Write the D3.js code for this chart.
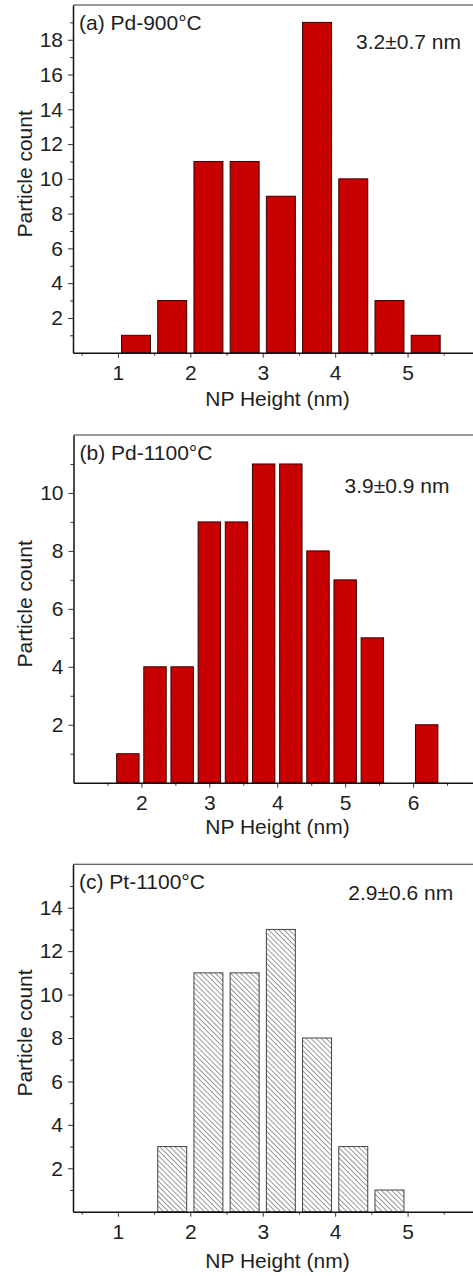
<!DOCTYPE html>
<html>
<head>
<meta charset="utf-8">
<script src="https://cdn.jsdelivr.net/npm/d3@7"></script>
<style>
  html, body { margin: 0; padding: 0; background: #fff; }
  svg { display: block; font-family: "Liberation Sans", Arial, sans-serif; }
</style>
</head>
<body>
<svg id="chart" width="473" height="1276"></svg>
<script>
// Histogram data: bin centres (nm) and particle counts for each sample
const panelTitles = ["(a) Pd-900°C", "(b) Pd-1100°C", "(c) Pt-1100°C"];
const meanLabels = ["3.2±0.7 nm", "3.9±0.9 nm", "2.9±0.6 nm"];

const heightsA = [1.25, 1.75, 2.25, 2.75, 3.25, 3.75, 4.25, 4.75, 5.25];
const countsA  = [1, 3, 11, 11, 9, 19, 10, 3, 1];

const heightsB = [1.8, 2.2, 2.6, 3.0, 3.4, 3.8, 4.2, 4.6, 5.0, 5.4, 6.2];
const countsB  = [1, 4, 4, 9, 9, 11, 11, 8, 7, 5, 2];

const heightsC = [1.75, 2.25, 2.75, 3.25, 3.75, 4.25, 4.75];
const countsC  = [3, 11, 11, 13, 8, 3, 1];

const xTicksA = [1, 2, 3, 4, 5];
const xTicksB = [2, 3, 4, 5, 6];
const xTicksC = [1, 2, 3, 4, 5];

const yTicksA = [2, 4, 6, 8, 10, 12, 14, 16, 18];
const yTicksB = [2, 4, 6, 8, 10];
const yTicksC = [2, 4, 6, 8, 10, 12, 14];

const xLabel = "NP Height (nm)";
const yLabel = "Particle count";

// Layout of the three stacked panels
const panels = [
  { heights: heightsA, counts: countsA, xTicks: xTicksA, yTicks: yTicksA,
    xDomain: [0.38, 6], xRange: [73, 480], yDomain: [0, 20], top: 5, bottom: 352.7,
    barW: 0.4, pattern: "hatchRed", stroke: "#3a0000",
    note: [283, 44.3], xLabelDy: 53.5 },
  { heights: heightsB, counts: countsB, xTicks: xTicksB, yTicks: yTicksB,
    xDomain: [1, 7], xRange: [73.5, 481], yDomain: [0, 12], top: 435, bottom: 782.7,
    barW: 0.33, pattern: "hatchRed", stroke: "#3a0000",
    note: [271, 58.3], xLabelDy: 51.5 },
  { heights: heightsC, counts: countsC, xTicks: xTicksC, yTicks: yTicksC,
    xDomain: [0.38, 6], xRange: [73, 480], yDomain: [0, 16], top: 864.3, bottom: 1211.7,
    barW: 0.4, pattern: "hatchLine", stroke: "#444",
    note: [275.3, 35.7], xLabelDy: 56.5 }
];

const fontSize = "21px";

const svg = d3.select("#chart");
const defs = svg.append("defs");

// Red fill with fine dark "/" hatching
const pr = defs.append("pattern").attr("id", "hatchRed")
  .attr("patternUnits", "userSpaceOnUse").attr("width", 2.2).attr("height", 2.2)
  .attr("patternTransform", "rotate(45)");
pr.append("rect").attr("width", 2.2).attr("height", 2.2).attr("fill", "#d60000");
pr.append("line").attr("x1", 0).attr("y1", 0).attr("x2", 0).attr("y2", 2.2)
  .attr("stroke", "#7a0000").attr("stroke-width", 0.7);

// White fill with "\" hatching
const pl = defs.append("pattern").attr("id", "hatchLine")
  .attr("patternUnits", "userSpaceOnUse").attr("width", 3.6).attr("height", 3.6)
  .attr("patternTransform", "rotate(-45)");
pl.append("rect").attr("width", 3.6).attr("height", 3.6).attr("fill", "#fff");
pl.append("line").attr("x1", 0).attr("y1", 0).attr("x2", 0).attr("y2", 3.6)
  .attr("stroke", "#222").attr("stroke-width", 0.9);

const textColor = "#1e1e1e";

panels.forEach((p, i) => {
  const x = d3.scaleLinear().domain(p.xDomain).range(p.xRange);
  const y = d3.scaleLinear().domain(p.yDomain).range([p.bottom, p.top]);
  const g = svg.append("g");

  // top frame line
  g.append("line")
    .attr("x1", p.xRange[0]).attr("x2", p.xRange[1])
    .attr("y1", p.top).attr("y2", p.top)
    .attr("stroke", "#333").attr("stroke-width", 1.1);

  // bars
  g.selectAll("rect.bar").data(p.heights.map((h, k) => ({ h, c: p.counts[k] })))
    .join("rect").attr("class", "bar")
    .attr("x", d => x(d.h - p.barW / 2))
    .attr("width", d => x(d.h + p.barW / 2) - x(d.h - p.barW / 2))
    .attr("y", d => y(d.c))
    .attr("height", d => y(0) - y(d.c))
    .attr("fill", `url(#${p.pattern})`)
    .attr("stroke", p.stroke).attr("stroke-width", 1);

  // minor ticks
  const xMinor = d3.range(Math.ceil(p.xDomain[0] * 2) / 2, p.xDomain[1], 0.5)
    .filter(v => Math.abs(v - Math.round(v)) > 0.01);
  const yMinor = d3.range(1, p.yDomain[1], 2);

  g.append("g").attr("transform", `translate(0,${p.bottom})`)
    .call(d3.axisBottom(x).tickValues(xMinor).tickSize(3).tickFormat(""))
    .call(a => a.select(".domain").remove())
    .selectAll("line").attr("stroke", "#333");
  g.append("g").attr("transform", `translate(${p.xRange[0]},0)`)
    .call(d3.axisLeft(y).tickValues(yMinor).tickSize(3).tickFormat(""))
    .call(a => a.select(".domain").remove())
    .selectAll("line").attr("stroke", "#333");

  // major axes
  const xAxis = g.append("g").attr("transform", `translate(0,${p.bottom})`)
    .call(d3.axisBottom(x).tickValues(p.xTicks).tickSize(5).tickSizeOuter(0)
      .tickPadding(7).tickFormat(d3.format("d")));
  const yAxis = g.append("g").attr("transform", `translate(${p.xRange[0]},0)`)
    .call(d3.axisLeft(y).tickValues(p.yTicks).tickSize(5).tickSizeOuter(0)
      .tickPadding(5).tickFormat(d3.format("d")));
  [xAxis, yAxis].forEach(a => {
    a.select(".domain").attr("stroke", "#111").attr("stroke-width", 1.5);
    a.selectAll(".tick line").attr("stroke", "#333");
    a.selectAll(".tick text").attr("fill", textColor)
      .style("font-size", fontSize).style("font-family", "Liberation Sans, Arial, sans-serif");
  });

  // panel title
  g.append("text").attr("x", p.xRange[0] + 6).attr("y", p.top + 25)
    .attr("fill", textColor).style("font-size", fontSize).text(panelTitles[i]);

  // mean ± sd annotation
  g.append("text").attr("x", p.xRange[0] + p.note[0]).attr("y", p.top + p.note[1])
    .attr("fill", textColor).style("font-size", fontSize).text(meanLabels[i]);

  // axis titles
  g.append("text").attr("x", 277.5).attr("y", p.bottom + p.xLabelDy)
    .attr("text-anchor", "middle").attr("fill", textColor)
    .style("font-size", fontSize).text(xLabel);
  g.append("text")
    .attr("transform", `translate(31.5,${(p.top + p.bottom) / 2 - 5}) rotate(-90)`)
    .attr("text-anchor", "middle").attr("fill", textColor)
    .style("font-size", fontSize).text(yLabel);
});
</script>
</body>
</html>
